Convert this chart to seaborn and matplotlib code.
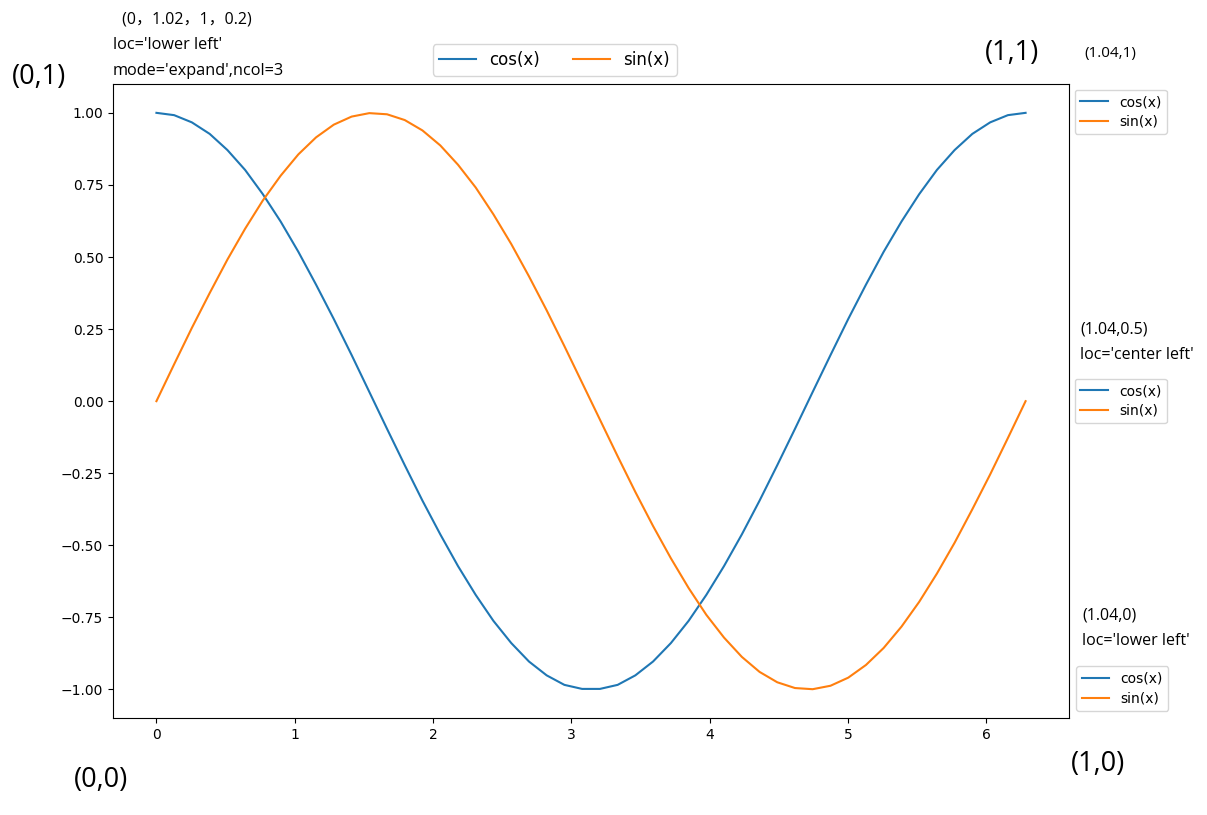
import matplotlib
matplotlib.use("Agg")
import matplotlib.pyplot as plt
import seaborn as sns
import pandas as pd

# values (50 points from 0 to 2*pi)
x_vals = [0.000, 0.128, 0.256, 0.385, 0.513, 0.641, 0.769, 0.898, 1.026, 1.154,
          1.282, 1.411, 1.539, 1.667, 1.795, 1.923, 2.052, 2.180, 2.308, 2.436,
          2.565, 2.693, 2.821, 2.949, 3.077, 3.206, 3.334, 3.462, 3.590, 3.719,
          3.847, 3.975, 4.103, 4.232, 4.360, 4.488, 4.616, 4.744, 4.873, 5.001,
          5.129, 5.257, 5.386, 5.514, 5.642, 5.770, 5.898, 6.027, 6.155, 6.283]
cos_vals = [1.000, 0.992, 0.967, 0.927, 0.871, 0.802, 0.718, 0.623, 0.518, 0.404,
            0.285, 0.160, 0.032, -0.096, -0.222, -0.345, -0.462, -0.572, -0.672, -0.762,
            -0.839, -0.903, -0.951, -0.984, -0.998, -0.998, -0.984, -0.951, -0.903, -0.839,
            -0.762, -0.672, -0.572, -0.462, -0.345, -0.222, -0.096, 0.032, 0.160, 0.285,
            0.404, 0.518, 0.623, 0.718, 0.802, 0.871, 0.927, 0.967, 0.992, 1.000]
sin_vals = [0.000, 0.128, 0.254, 0.375, 0.491, 0.598, 0.696, 0.782, 0.856, 0.915,
            0.959, 0.987, 0.999, 0.995, 0.975, 0.939, 0.887, 0.820, 0.741, 0.648,
            0.545, 0.433, 0.315, 0.191, 0.064, -0.064, -0.191, -0.315, -0.433, -0.545,
            -0.648, -0.741, -0.820, -0.887, -0.939, -0.975, -0.995, -0.999, -0.987, -0.959,
            -0.915, -0.856, -0.782, -0.696, -0.598, -0.491, -0.375, -0.254, -0.128, 0.000]
labels = ["cos(x)", "sin(x)"]

df = pd.DataFrame({"x": x_vals * 2,
                   "y": cos_vals + sin_vals,
                   "f": [labels[0]] * len(x_vals) + [labels[1]] * len(x_vals)})

txt_font = ["Open Sans", "Noto Sans CJK SC", "DejaVu Sans"]

fig = plt.figure(figsize=(12.07, 8.15), dpi=100)
ax = fig.add_axes([0.0936, 0.119, 0.7921, 0.7779])

sns.lineplot(data=df, x="x", y="y", hue="f", palette=["tab:blue", "tab:orange"],
             ax=ax, legend=False, linewidth=1.5)
ax.set_xlabel("")
ax.set_ylabel("")
ax.set_yticks([-1.0, -0.75, -0.5, -0.25, 0.0, 0.25, 0.5, 0.75, 1.0])
ax.set_yticklabels([f"{v:.2f}".replace("-", "\u2212") for v in ax.get_yticks()])

handles = ax.get_lines()[:2]

# legends outside the axes
leg1 = ax.legend(handles, labels, loc="upper left", bbox_to_anchor=(1.0, 1.0),
                 borderaxespad=0.4, labelspacing=0.4)
ax.add_artist(leg1)
leg2 = ax.legend(handles, labels, loc="center left", bbox_to_anchor=(1.0, 0.5),
                 borderaxespad=0.4, labelspacing=0.4)
ax.add_artist(leg2)
leg3 = ax.legend(handles, labels, loc="lower left", bbox_to_anchor=(1.0, 0.0),
                 borderaxespad=0.5, labelspacing=0.4)
ax.add_artist(leg3)
ax.legend(handles, labels, loc="lower center", bbox_to_anchor=(0.462, 1.0),
          ncol=2, fontsize=12, handlelength=2.2, columnspacing=2.0)


def note(px, py, s, size):
    fig.text(px / 1207, 1 - py / 815, s, ha="left", va="center",
             fontsize=size, family=txt_font, color="black")


note(118, 20, " (0，1.02，1，0.2)", 11.5)
note(113, 45, "loc='lower left'", 11.7)
note(113, 71, "mode='expand',ncol=3", 11.7)
note(12, 77, "(0,1)", 19.5)
note(985, 53, "(1,1)", 19.5)
note(1084, 54, "(1.04,1)", 11)
note(1080, 329, "(1.04,0.5)", 11.5)
note(1080, 355, "loc='center left'", 11.5)
note(1082, 616, "(1.04,0)", 11.5)
note(1082, 641, "loc='lower left'", 11.5)
note(74, 780, "(0,0)", 19.5)
note(1071, 764, "(1,0)", 19.5)

fig.savefig("out.png", dpi=100)
